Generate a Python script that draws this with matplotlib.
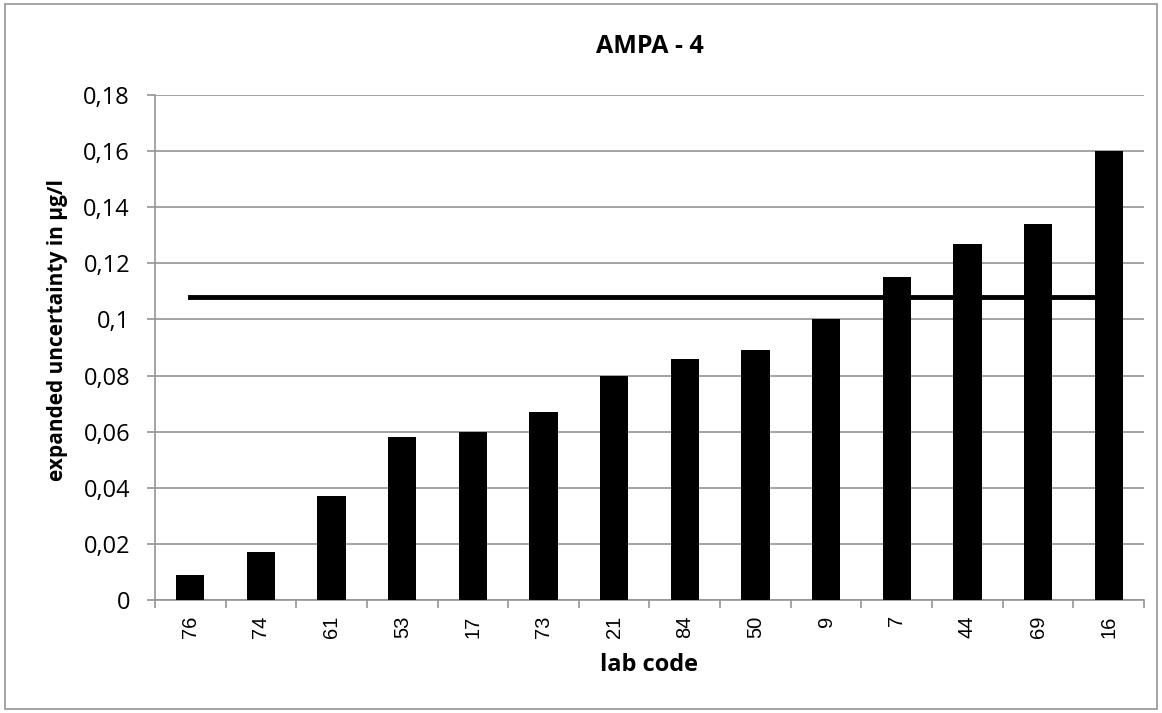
import matplotlib.pyplot as plt
from matplotlib.patches import Rectangle
from matplotlib.ticker import MultipleLocator, FuncFormatter

lab_codes = ['76', '74', '61', '53', '17', '73', '21', '84', '50', '9', '7', '44', '69', '16']
uncertainty = [0.009, 0.017, 0.037, 0.058, 0.060, 0.067, 0.080, 0.086, 0.089, 0.100,
               0.115, 0.127, 0.134, 0.160]
reference_value = 0.108

plt.rcParams['font.family'] = ['Open Sans', 'DejaVu Sans']

fig = plt.figure(figsize=(11.62, 7.13), dpi=100)
ax = fig.add_axes([0.1334, 0.1585, 0.8511, 0.7083])

x = list(range(len(lab_codes)))
ax.bar(x, uncertainty, width=0.4, color='black', zorder=3)
ax.plot([x[0], x[-1]], [reference_value] * 2, color='black', linewidth=3.5, zorder=2)

ax.set_xlim(-0.5, len(lab_codes) - 0.5)
ax.set_ylim(0, 0.18)
ax.yaxis.set_major_locator(MultipleLocator(0.02))
ax.yaxis.set_major_formatter(FuncFormatter(
    lambda v, p: '0' if abs(v) < 1e-9 else ('%.2f' % v).rstrip('0').replace('.', ',')))
ax.grid(axis='y', color='#959595', linewidth=1.2, zorder=0)

ax.set_xticks([i - 0.5 for i in range(len(lab_codes) + 1)])
ax.set_xticklabels([])
ax.set_xticks(x, minor=True)
ax.set_xticklabels(lab_codes, minor=True, rotation=90, fontsize=14.5,
                   family='Liberation Sans')
ax.tick_params(axis='x', which='minor', length=0, pad=11)
ax.tick_params(axis='x', which='major', length=6, color='#959595', width=1.2)
ax.tick_params(axis='y', length=6, color='#959595', width=1.2, labelsize=17, pad=12)

for side in ['top', 'right']:
    ax.spines[side].set_visible(False)
for side in ['left', 'bottom']:
    ax.spines[side].set_color('#959595')
    ax.spines[side].set_linewidth(1.2)

ax.set_title('AMPA - 4', fontsize=18, fontweight='bold', pad=30)
ax.set_xlabel('lab code', fontsize=17, fontweight='bold', labelpad=11)
ax.set_ylabel('expanded uncertainty in µg/l', fontsize=15, fontweight='bold')
ax.yaxis.set_label_coords(-0.088, 0.535)

fig.patches.append(Rectangle((0.004, 0.006), 0.992, 0.988, transform=fig.transFigure,
                             fill=False, edgecolor='#959595', linewidth=1.2))

fig.savefig('out.png', dpi=100)
